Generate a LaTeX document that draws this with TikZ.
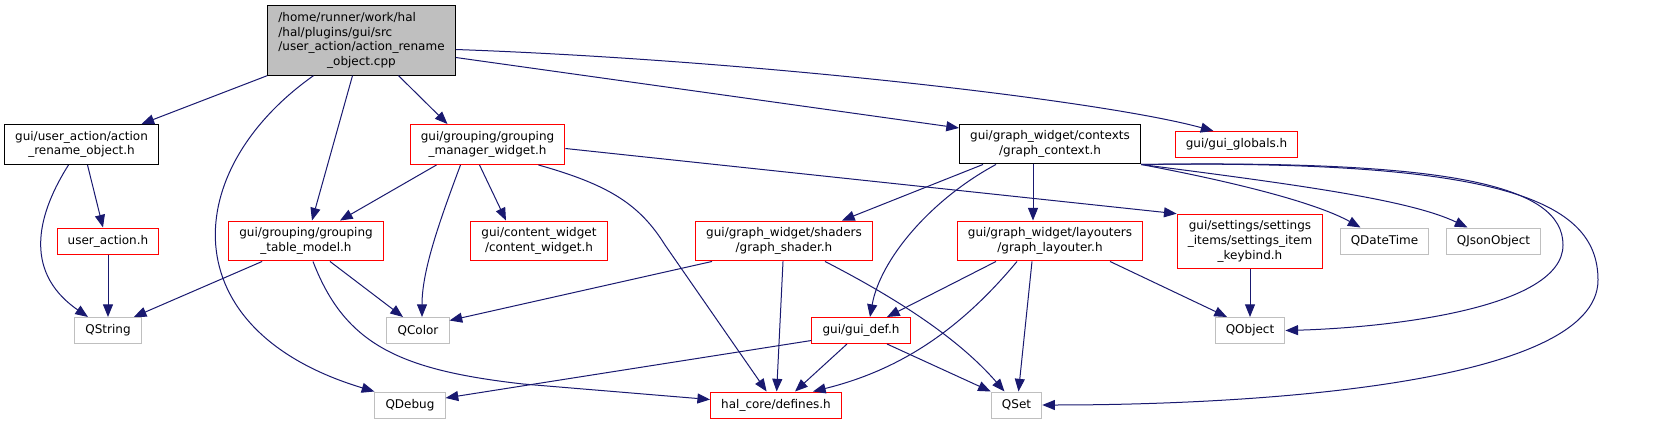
\documentclass[tikz,border=0pt]{standalone}
\usepackage{fontspec}
\setmainfont{DejaVu Sans}
\usetikzlibrary{arrows.meta, calc}
\definecolor{EdgeNavy}{RGB}{25, 25, 112}
\definecolor{LinkRed}{RGB}{255, 0, 0}
\definecolor{SysGray}{RGB}{191, 191, 191}
\definecolor{RootFill}{RGB}{191, 191, 191}

\begin{document}
\begin{tikzpicture}[
        x=0.75pt, y=-0.75pt,
        box/.style={draw, line width=0.75pt, inner xsep=8pt, inner ysep=5pt, minimum height=19.5pt, align=center, font=\fontsize{9}{11}\selectfont},
        docbox/.style={box, draw=black},
        redbox/.style={box, draw=LinkRed},
        sysbox/.style={box, draw=SysGray},
        dep/.style={draw=EdgeNavy, line width=0.75pt, -{Triangle[length=9.5pt, width=7.5pt]}}
    ]
        \path[use as bounding box, fill=white] (0,0) rectangle (1670,424);

        \node[docbox, fill=RootFill, inner ysep=4pt] (root) at (361.5,40.5) {\begin{tabular}{@{}l@{}}/home/runner/work/hal\\/hal/plugins/gui/src\\/user\_action/action\_rename\\\multicolumn{1}{@{}c@{}}{\_object.cpp}\end{tabular}};

        \node[docbox] (aro) at (81.5,144.5) {gui/user\_action/action\\\_rename\_object.h};
        \node[redbox] (gmw) at (487.5,144.5) {gui/grouping/grouping\\\_manager\_widget.h};
        \node[docbox] (gctx) at (1050,144) {gui/graph\_widget/contexts\\/graph\_context.h};
        \node[redbox] (glob) at (1236.5,144.5) {gui/gui\_globals.h};

        \node[redbox] (ua) at (108,241) {user\_action.h};
        \node[redbox] (gtm) at (306,241) {gui/grouping/grouping\\\_table\_model.h};
        \node[redbox] (cw) at (539,241) {gui/content\_widget\\/content\_widget.h};
        \node[redbox] (gsh) at (784,241) {gui/graph\_widget/shaders\\/graph\_shader.h};
        \node[redbox] (glay) at (1050,241) {gui/graph\_widget/layouters\\/graph\_layouter.h};
        \node[redbox] (keyb) at (1250,241.5) {gui/settings/settings\\\_items/settings\_item\\\_keybind.h};
        \node[sysbox] (qdt) at (1384.5,241) {QDateTime};
        \node[sysbox] (qjs) at (1493.5,241) {QJsonObject};

        \node[sysbox] (qstr) at (108,330.5) {QString};
        \node[sysbox] (qcol) at (418,330.5) {QColor};
        \node[redbox] (gdef) at (861,330.5) {gui/gui\_def.h};
        \node[sysbox] (qobj) at (1250,330.5) {QObject};

        \node[sysbox] (qdbg) at (410,405) {QDebug};
        \node[redbox] (defs) at (776,405) {hal\_core/defines.h};
        \node[sysbox] (qset) at (1016.5,405) {QSet};

        \draw[dep] (root.south west) -- ($(aro.north)+(60,0)$);
        \draw[dep] ($(root.south)+(-48,0)$) .. controls (180,170) and (170,330) .. (qdbg.north west);
        \draw[dep] ($(root.south)+(-9,0)$) -- ($(gtm.north)+(6,0)$);
        \draw[dep] ($(root.south)+(37,0)$) -- ($(gmw.north)+(-40,0)$);
        \draw[dep] ($(root.east)+(0,17)$) -- ($(gctx.west)+(0,-16)$);
        \draw[dep] ($(root.east)+(0,9)$) .. controls (750,60) and (1100,100) .. ($(glob.north)+(-23,0)$);

        \draw[dep] ($(aro.south)+(-13,0)$) .. controls (40,210) and (20,270) .. ($(qstr.north)+(-20,0)$);
        \draw[dep] ($(aro.south)+(6,0)$) -- ($(ua.north)+(-5,0)$);
        \draw[dep] (ua) -- (qstr);

        \draw[dep] ($(gmw.south)+(-51,0)$) -- ($(gtm.north)+(34,0)$);
        \draw[dep] ($(gmw.south)+(-27,0)$) .. controls (440,220) and (422,270) .. ($(qcol.north)+(4,0)$);
        \draw[dep] ($(gmw.south)+(-8,0)$) -- ($(cw.north)+(-33,0)$);
        \draw[dep] ($(gmw.south east)+(-27,0)$) .. controls (610,185) and (640,205) .. (665,245) -- (defs);
        \draw[dep] ($(gmw.east)+(0,4)$) -- (keyb.north west);

        \draw[dep] ($(gtm.south west)+(34,0)$) -- ($(qstr.north east)+(-8,0)$);
        \draw[dep] ($(gtm.south)+(24,0)$) -- ($(qcol.north)+(-15,0)$);
        \draw[dep] ($(gtm.south)+(7,0)$) .. controls (345,345) and (400,370) .. (523,384) -- (defs);

        \draw[dep] ($(gctx.south)+(-67,0)$) -- ($(gsh.north)+(58,0)$);
        \draw[dep] ($(gctx.south)+(-54,0)$) .. controls (930,200) and (880,260) .. ($(gdef.north)+(9,0)$);
        \draw[dep] ($(gctx.south)+(-17,0)$) -- ($(glay.north)+(-17,0)$);
        \draw[dep] (gctx.south east) .. controls (1250,185) and (1320,205) .. ($(qdt.north)+(-24,0)$);
        \draw[dep] (gctx.south east) .. controls (1300,185) and (1410,200) .. ($(qjs.north)+(-26,0)$);
        \draw[dep] (gctx.south east) .. controls (1450,160) and (1563,185) .. (1563,245) .. controls (1563,310) and (1380,328) .. (qobj.east);
        \draw[dep] (gctx.south east) .. controls (1500,160) and (1598,200) .. (1598,280) .. controls (1598,385) and (1250,405) .. (qset.east);

        \draw[dep] ($(gsh.south west)+(17,0)$) -- ($(qcol.east)+(0,-10)$);
        \draw[dep] (gsh) -- (defs);
        \draw[dep] ($(gsh.south)+(41,0)$) .. controls (900,300) and (960,340) .. ($(qset.north)+(-12,0)$);

        \draw[dep] ($(glay.south)+(-54,0)$) -- ($(gdef.north)+(26,0)$);
        \draw[dep] ($(glay.south)+(-33,0)$) .. controls (960,330) and (900,370) .. ($(defs.north)+(37,0)$);
        \draw[dep] ($(glay.south)+(-18,0)$) -- ($(qset.north)+(2,0)$);
        \draw[dep] ($(glay.south)+(60,0)$) -- ($(qobj.north)+(-23,0)$);
        \draw[dep] (keyb) -- (qobj);

        \draw[dep] ($(gdef.south)+(-14,0)$) -- ($(defs.north)+(19,0)$);
        \draw[dep] ($(gdef.south)+(26,0)$) -- (qset.north west);
        \draw[dep] ($(gdef.west)+(0,10)$) -- ($(qdbg.east)+(0,-7)$);
    \end{tikzpicture}
\end{document}
